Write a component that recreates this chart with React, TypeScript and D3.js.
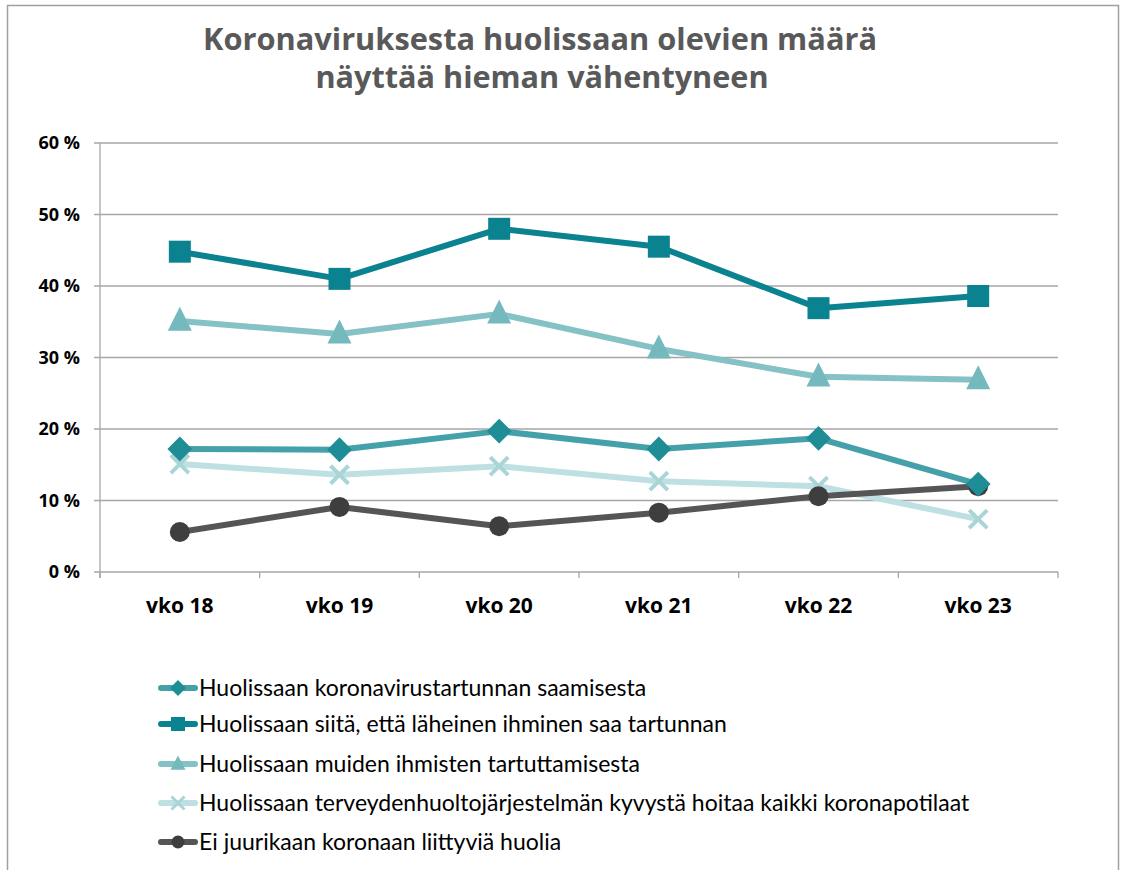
import { useEffect, useRef } from 'react';
import * as d3 from 'd3';

const categories = ['vko 18', 'vko 19', 'vko 20', 'vko 21', 'vko 22', 'vko 23'];
const yTicks = [0, 10, 20, 30, 40, 50, 60];

const saamisesta = [17.2, 17.1, 19.7, 17.2, 18.7, 12.3];
const laheinen = [44.8, 41.0, 48.0, 45.5, 36.9, 38.6];
const muiden = [35.1, 33.3, 36.1, 31.2, 27.3, 26.9];
const terveys = [15.1, 13.6, 14.8, 12.7, 12.0, 7.4];
const eiHuolia = [5.6, 9.1, 6.4, 8.3, 10.6, 12.0];

const seriesNames = [
  'Huolissaan koronavirustartunnan saamisesta',
  'Huolissaan siitä, että läheinen ihminen saa tartunnan',
  'Huolissaan muiden ihmisten tartuttamisesta',
  'Huolissaan terveydenhuoltojärjestelmän kyvystä hoitaa kaikki koronapotilaat',
  'Ei juurikaan koronaan liittyviä huolia',
];

type Marker = 'diamond' | 'square' | 'triangle' | 'x' | 'circle';

const series: { name: string; values: number[]; line: string; fill: string; marker: Marker }[] = [
  { name: seriesNames[0], values: saamisesta, line: '#44a1a9', fill: '#1f8d96', marker: 'diamond' },
  { name: seriesNames[1], values: laheinen, line: '#0b8290', fill: '#0b8290', marker: 'square' },
  { name: seriesNames[2], values: muiden, line: '#85c2c6', fill: '#74b9be', marker: 'triangle' },
  { name: seriesNames[3], values: terveys, line: '#bfe0e2', fill: '#a9d5d8', marker: 'x' },
  { name: seriesNames[4], values: eiHuolia, line: '#555555', fill: '#3e3e3e', marker: 'circle' },
];

const W = 1121;
const H = 870;

function drawMarker(g: d3.Selection<SVGGElement, unknown, null, undefined>, m: Marker, x: number, y: number, fill: string, s: number) {
  if (m === 'square') {
    g.append('rect').attr('x', x - s / 2).attr('y', y - s / 2).attr('width', s).attr('height', s).attr('fill', fill);
  } else if (m === 'diamond') {
    const r = s * 0.62;
    g.append('path').attr('d', `M${x},${y - r}L${x + r},${y}L${x},${y + r}L${x - r},${y}Z`).attr('fill', fill);
  } else if (m === 'triangle') {
    const h = s * 1.05;
    g.append('path')
      .attr('d', `M${x},${y - h * 0.62}L${x + s / 2 + 1},${y + h * 0.42}L${x - s / 2 - 1},${y + h * 0.42}Z`)
      .attr('fill', fill);
  } else if (m === 'circle') {
    g.append('circle').attr('cx', x).attr('cy', y).attr('r', s / 2).attr('fill', fill);
  } else {
    const r = s / 2;
    g.append('path')
      .attr('d', `M${x - r},${y - r}L${x + r},${y + r}M${x - r},${y + r}L${x + r},${y - r}`)
      .attr('stroke', fill)
      .attr('stroke-width', s * 0.22)
      .attr('fill', 'none');
  }
}

export default function App() {
  const ref = useRef<SVGSVGElement>(null);

  useEffect(() => {
    if (!ref.current) return;
    const svg = d3.select(ref.current);
    svg.selectAll('*').remove();

    // outer frame
    svg.append('rect').attr('x', 0).attr('y', 0).attr('width', W).attr('height', H).attr('fill', '#fff');
    svg
      .append('path')
      .attr('d', `M7.5,${H}V5.5H1118.5V${H}`)
      .attr('fill', 'none')
      .attr('stroke', '#a0a0a0')
      .attr('stroke-width', 1.5);

    // title
    const title = svg
      .append('text')
      .attr('text-anchor', 'middle')
      .attr('font-family', 'Open Sans')
      .attr('font-weight', 700)
      .attr('font-size', 30)
      .attr('fill', '#595959');
    title.append('tspan').attr('x', 540).attr('y', 50).attr('textLength', 674).attr('lengthAdjust', 'spacingAndGlyphs').text('Koronaviruksesta huolissaan olevien määrä');
    title.append('tspan').attr('x', 542).attr('y', 88).attr('textLength', 453).attr('lengthAdjust', 'spacingAndGlyphs').text('näyttää hieman vähentyneen');

    const left = 100;
    const right = 1058;
    const top = 143;
    const bottom = 572;

    const x = d3.scaleBand<string>().domain(categories).range([left, right]);
    const y = d3.scaleLinear().domain([0, 60]).range([bottom, top]);

    const g = svg.append('g');

    // gridlines
    g.selectAll('line.grid')
      .data(yTicks)
      .join('line')
      .attr('x1', left - 6)
      .attr('x2', right)
      .attr('y1', (d) => y(d))
      .attr('y2', (d) => y(d))
      .attr('stroke', '#a6a6a6')
      .attr('stroke-width', 1.3);

    // y axis line
    g.append('line').attr('x1', left).attr('x2', left).attr('y1', top).attr('y2', bottom + 6).attr('stroke', '#a6a6a6').attr('stroke-width', 1.3);

    // x ticks at category boundaries
    const bounds = categories.map((c) => (x(c) as number) + x.bandwidth()).concat([left]);
    g.selectAll('line.xt')
      .data(bounds)
      .join('line')
      .attr('x1', (d) => d)
      .attr('x2', (d) => d)
      .attr('y1', bottom)
      .attr('y2', bottom + 6)
      .attr('stroke', '#a6a6a6')
      .attr('stroke-width', 1.3);

    // y labels
    g.selectAll('text.yl')
      .data(yTicks)
      .join('text')
      .attr('x', left - 20)
      .attr('y', (d) => y(d) + 6)
      .attr('text-anchor', 'end')
      .attr('font-family', 'Open Sans')
      .attr('font-weight', 700)
      .attr('font-size', 18)
      .attr('fill', '#000')
      .text((d) => `${d} %`);

    // x labels
    g.selectAll('text.xl')
      .data(categories)
      .join('text')
      .attr('x', (d) => (x(d) as number) + x.bandwidth() / 2)
      .attr('y', bottom + 41)
      .attr('text-anchor', 'middle')
      .attr('font-family', 'Open Sans')
      .attr('font-weight', 700)
      .attr('font-size', 21)
      .attr('fill', '#000')
      .text((d) => d);

    const cx = (i: number) => (x(categories[i]) as number) + x.bandwidth() / 2;
    const line = d3
      .line<number>()
      .x((_, i) => cx(i))
      .y((d) => y(d));

    const sizes: Record<Marker, number> = { square: 22, diamond: 20, triangle: 22, x: 18, circle: 20 };

    // draw from back to front: x, circle, triangle, diamond, square
    const order = [3, 4, 2, 0, 1];
    order.forEach((k) => {
      const s = series[k];
      const sg = g.append('g');
      sg.append('path')
        .datum(s.values)
        .attr('fill', 'none')
        .attr('stroke', s.line)
        .attr('stroke-width', 6)
        .attr('stroke-linejoin', 'round')
        .attr('d', line);
      s.values.forEach((v, i) => drawMarker(sg, s.marker, cx(i), y(v), s.fill, sizes[s.marker]));
    });

    // legend
    const lg = svg.append('g');
    const legendY = [688, 724, 764, 803, 842];
    series.forEach((s, i) => {
      const ly = legendY[i];
      lg.append('line')
        .attr('x1', 161)
        .attr('x2', 195)
        .attr('y1', ly)
        .attr('y2', ly)
        .attr('stroke', s.line)
        .attr('stroke-width', 6)
        .attr('stroke-linecap', 'round');
      drawMarker(lg as any, s.marker, 178, ly, s.fill, s.marker === 'square' ? 14 : 13);
      lg.append('text')
        .attr('x', 199)
        .attr('y', ly + 8)
        .attr('font-family', 'Lato')
        .attr('font-size', 23)
        .attr('fill', '#000')
        .text(s.name);
    });
  }, []);

  return (
    <svg
      ref={ref}
      width={W}
      height={H}
      style={{ display: 'block', position: 'absolute', left: 0, top: 0 }}
    />
  );
}
